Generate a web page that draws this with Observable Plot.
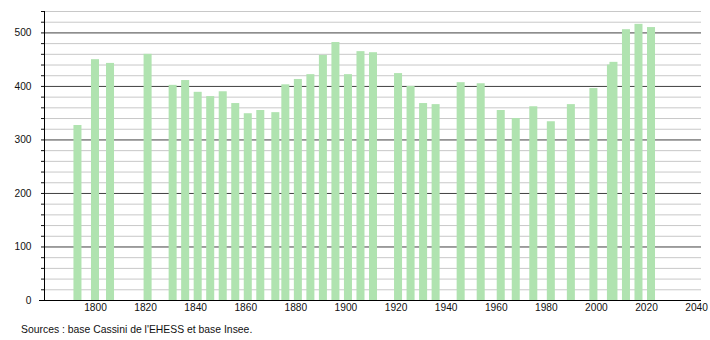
<!DOCTYPE html>
<html>
<head>
<meta charset="utf-8">
<script src="https://cdn.jsdelivr.net/npm/d3@7"></script>
<script src="https://cdn.jsdelivr.net/npm/@observablehq/plot@0.6"></script>
<style>
  html, body { margin: 0; padding: 0; background: #fff; }
  body { width: 710px; height: 340px; overflow: hidden; font-family: "Liberation Sans", Arial, sans-serif; }
  #chart svg { display: block; }
  #caption { font-size: 10.4px; color: #111; padding-left: 21px; margin-top: 6px; line-height: 12px; }
</style>
</head>
<body>
<div id="chart"></div>
<div id="caption">Sources : base Cassini de l'EHESS et base Insee.</div>
<script>
const years = [1793,1800,1806,1821,1831,1836,1841,1846,1851,1856,1861,1866,1872,1876,1881,1886,1891,1896,1901,1906,1911,1921,1926,1931,1936,1946,1954,1962,1968,1975,1982,1990,1999,2006,2007,2012,2017,2022];
const population = [327,450,443,460,402,411,389,381,390,368,349,355,351,403,413,422,458,482,422,465,463,424,400,368,366,407,405,355,340,362,334,366,396,440,445,506,516,510];
const xTicks = [1800,1820,1840,1860,1880,1900,1920,1940,1960,1980,2000,2020,2040];
const yMajor = [100,200,300,400,500];
const yMinor = d3.range(20, 541, 20).filter(v => v % 100 !== 0);
const yAllTicks = d3.range(0, 541, 20);

const data = years.map((y, i) => ({year: y, pop: population[i]}));
const halfWidth = 1.6;

const chart = Plot.plot({
  width: 710,
  height: 318,
  marginLeft: 44,
  marginRight: 9,
  marginTop: 11,
  marginBottom: 18,
  style: {fontFamily: "'Liberation Sans', Arial, sans-serif", fontSize: "10.2px", color: "#111"},
  x: {domain: [1779.64, 2041.96], label: null},
  y: {domain: [0, 540], label: null},
  marks: [
    Plot.ruleY(yMinor, {stroke: "#c8c8c8", strokeWidth: 1}),
    Plot.ruleY(yMajor, {stroke: "#404040", strokeWidth: 1}),
    Plot.rectY(data, {x1: d => d.year - halfWidth, x2: d => d.year + halfWidth, y1: 0, y2: "pop", fill: "#b0e3b0"}),
    Plot.axisX({ticks: xTicks, tickSize: 0, tickPadding: 3, tickFormat: d => String(d)}),
    Plot.axisY({ticks: yAllTicks, tickSize: 3, tickPadding: 10, tickFormat: d => (d % 100 === 0 && d <= 500) ? String(d) : ""}),
    Plot.ruleX([1779.64], {stroke: "#000", strokeWidth: 1}),
    Plot.ruleY([0], {stroke: "#000", strokeWidth: 1, insetLeft: -5})
  ]
});
document.getElementById("chart").appendChild(chart);
</script>
</body>
</html>
